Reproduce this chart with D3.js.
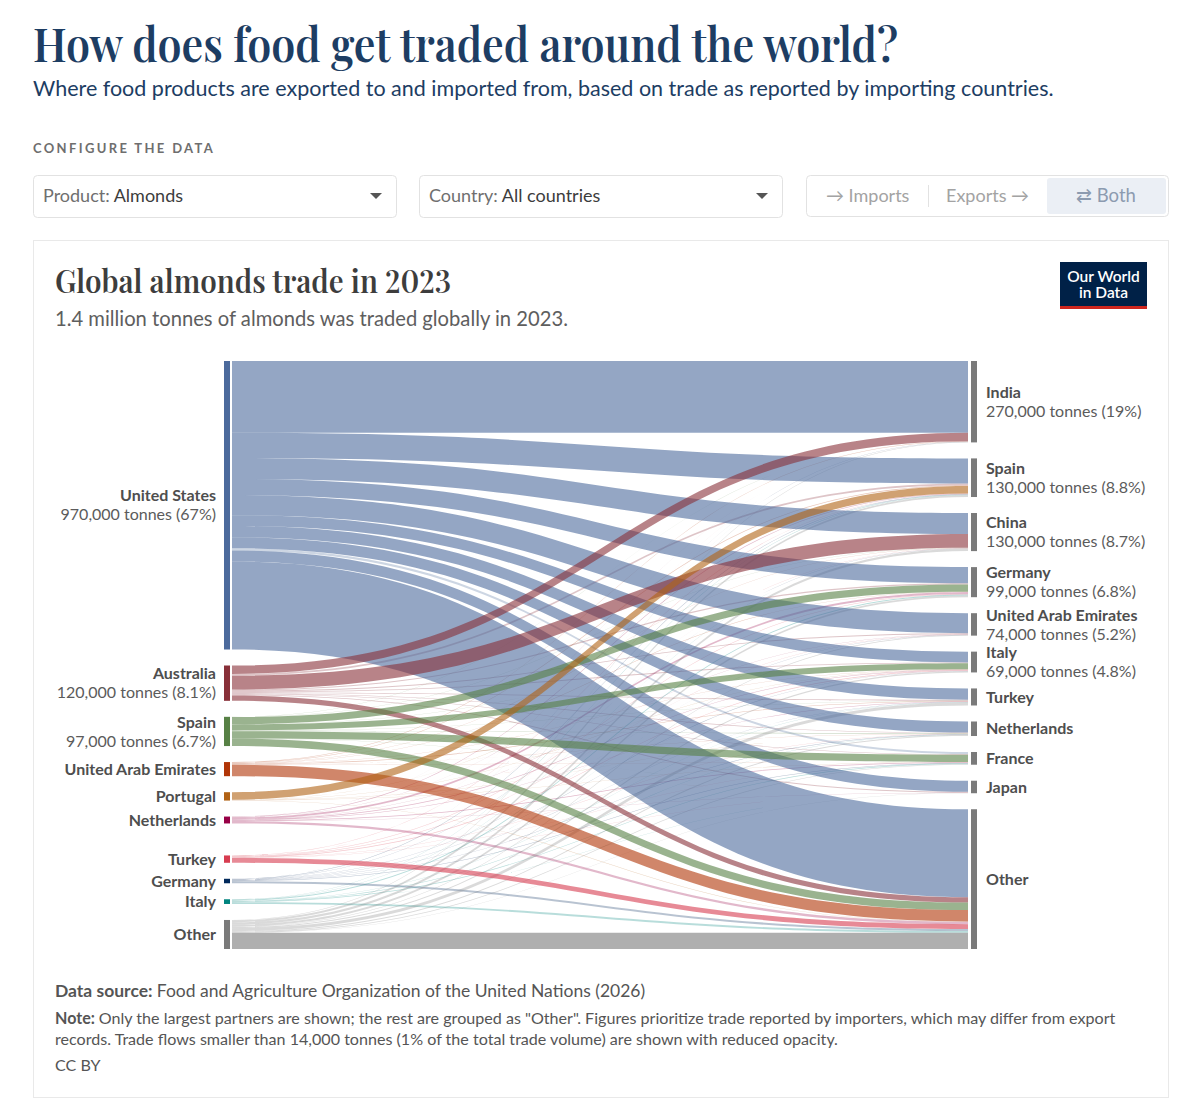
<!DOCTYPE html>
<html>
<head>
<meta charset="utf-8">
<script src="https://cdn.jsdelivr.net/npm/d3@7"></script>
<style>
  body { margin: 0; background: #fff; }
  svg text { font-family: Lato, "Noto Sans", sans-serif; }
  .serif { font-family: "Playfair Display", "Liberation Serif", "DejaVu Serif", serif !important;
           font-variant-numeric: lining-nums; }
</style>
</head>
<body>
<script>
// trade partners, thousand tonnes (exporter rows, importer columns)
var exporters = ["United States", "Australia", "Spain", "United Arab Emirates", "Portugal",
                 "Netherlands", "Turkey", "Germany", "Italy", "Other"];
var importers = ["India", "Spain", "China", "Germany", "United Arab Emirates", "Italy",
                 "Turkey", "Netherlands", "France", "Japan", "Other"];

var fromUnitedStates = [240, 84, 70, 54, 67, 36, 38, 37, 7, 37, 294];
var fromAustralia    = [28, 6, 46, 4, 3, 3, 3, 2, 2, 3, 18];
var fromSpain        = [0.5, 0, 0.5, 24, 0.5, 20, 1, 2, 24, 0.2, 25];
var fromUAE          = [1, 2, 1, 1, 0, 1, 2, 0.5, 0.5, 0.2, 38];
var fromPortugal     = [0, 25, 0, 0.5, 0, 0.5, 0, 0.5, 0.5, 0, 1];
var fromNetherlands  = [0.3, 2, 0.5, 6, 0.5, 2, 1, 0, 2.5, 0.2, 8];
var fromTurkey       = [0.2, 1, 0.5, 2, 1, 2, 0, 1, 0.5, 0.3, 16];
var fromGermany      = [0.3, 1.5, 0.5, 0, 0.5, 1, 1, 1.5, 1.5, 0.2, 7];
var fromItaly        = [0.2, 1.5, 0.3, 3, 0.5, 0, 1, 1, 2, 0.2, 6];
var fromOther        = [1.5, 6, 8, 6, 2, 4, 10, 3, 2, 0.5, 54];

var flows = [fromUnitedStates, fromAustralia, fromSpain, fromUAE, fromPortugal,
             fromNetherlands, fromTurkey, fromGermany, fromItaly, fromOther];

var exporterValueLabels = ["970,000 tonnes (67%)", "120,000 tonnes (8.1%)", "97,000 tonnes (6.7%)",
                           "", "", "", "", "", "", ""];
var importerValueLabels = ["270,000 tonnes (19%)", "130,000 tonnes (8.8%)", "130,000 tonnes (8.7%)",
                           "99,000 tonnes (6.8%)", "74,000 tonnes (5.2%)", "69,000 tonnes (4.8%)",
                           "", "", "", "", ""];

var exporterColors = ["#4c6a9c", "#883039", "#578145", "#b13507", "#b16214",
                      "#970046", "#d73c50", "#00295b", "#00847e", "#7a7a7a"];

var SMALL_FLOW = 14; // thousand tonnes, 1% of volume

var WIDTH = 1200, HEIGHT = 1101;
var TOP = 361, BOTTOM = 949, GAP = 16;
var NODE_L = 224, NODE_R = 971, NODE_W = 6;
var LINK_X0 = 232, LINK_X1 = 968;
var SPACER_AFTER = "Netherlands";

var svg = d3.select("body").append("svg")
    .attr("width", WIDTH)
    .attr("height", HEIGHT);

// ---------- page header ----------
svg.append("text")
    .attr("class", "serif")
    .attr("x", 33).attr("y", 62)
    .attr("textLength", 865).attr("lengthAdjust", "spacingAndGlyphs")
    .style("font-weight", 600).style("font-size", "46px").style("fill", "#1d3d63")
    .text("How does food get traded around the world?");

svg.append("text")
    .attr("x", 33).attr("y", 96)
    .style("font-size", "21.5px").style("fill", "#1d3d63")
    .text("Where food products are exported to and imported from, based on trade as reported by importing countries.");

svg.append("text")
    .attr("x", 33).attr("y", 153)
    .style("font-size", "13px").style("font-weight", 700).style("letter-spacing", "2.35px")
    .style("fill", "#6e6e6e")
    .text("CONFIGURE THE DATA");

function dropdown(x, w, label, value) {
    var g = svg.append("g").attr("transform", "translate(" + x + ",175)");
    g.append("rect").attr("x", 0.5).attr("y", 0.5).attr("width", w).attr("height", 42)
        .attr("rx", 4).attr("fill", "#fff").attr("stroke", "#e2e2e2");
    var t = g.append("text").attr("x", 10).attr("y", 27).style("font-size", "18px");
    t.append("tspan").style("fill", "#6f6f6f").text(label + " ");
    t.append("tspan").style("fill", "#3c3c3c").text(value);
    g.append("path").attr("d", "M" + (w - 26) + ",18 L" + (w - 14) + ",18 L" + (w - 20) + ",24 Z")
        .attr("fill", "#555");
}
dropdown(33, 363, "Product:", "Almonds");
dropdown(419, 363, "Country:", "All countries");

var tg = svg.append("g").attr("transform", "translate(806,175)");
tg.append("rect").attr("x", 0.5).attr("y", 0.5).attr("width", 362).attr("height", 41)
    .attr("rx", 4).attr("fill", "#fff").attr("stroke", "#e2e2e2");
tg.append("rect").attr("x", 241).attr("y", 3).attr("width", 119).attr("height", 36)
    .attr("rx", 3).attr("fill", "#ebeff5");
tg.append("line").attr("x1", 122.5).attr("x2", 122.5).attr("y1", 10).attr("y2", 32)
    .attr("stroke", "#e2e2e2");
tg.append("text").attr("x", 20).attr("y", 27).style("font-size", "18px").style("fill", "#a3a3a3")
    .text("\u2192 Imports");
tg.append("text").attr("x", 140).attr("y", 27).style("font-size", "18px").style("fill", "#a3a3a3")
    .text("Exports \u2192");
tg.append("text").attr("x", 270).attr("y", 27).style("font-size", "18.5px").style("fill", "#8c9bb0")
    .text("\u21c4 Both");

// ---------- chart card ----------
svg.append("rect")
    .attr("x", 33.5).attr("y", 240.5).attr("width", 1135).attr("height", 857)
    .attr("fill", "#fff").attr("stroke", "#e9e9e9");

svg.append("text")
    .attr("class", "serif")
    .attr("x", 55).attr("y", 293)
    .attr("textLength", 396).attr("lengthAdjust", "spacingAndGlyphs")
    .style("font-weight", 600).style("font-size", "31px").style("fill", "#3d3d3d")
    .text("Global almonds trade in 2023");

svg.append("text")
    .attr("x", 55).attr("y", 326)
    .style("font-size", "20.2px").style("fill", "#5e5e5e")
    .text("1.4 million tonnes of almonds was traded globally in 2023.");

// logo
var logo = svg.append("g").attr("transform", "translate(1060,262)");
logo.append("rect").attr("width", 87).attr("height", 47).attr("fill", "#002147");
logo.append("rect").attr("y", 44).attr("width", 87).attr("height", 3).attr("fill", "#ce261e");
logo.append("text").attr("x", 43.5).attr("y", 20).attr("text-anchor", "middle")
    .style("font-size", "15.5px").style("font-weight", 600).style("fill", "#fff").text("Our World");
logo.append("text").attr("x", 43.5).attr("y", 36).attr("text-anchor", "middle")
    .style("font-size", "15.5px").style("font-weight", 600).style("fill", "#fff").text("in Data");

// ---------- sankey layout ----------
var srcTotals = flows.map(function (r) { return d3.sum(r); });
var tgtTotals = importers.map(function (_, j) { return d3.sum(flows, function (r) { return r[j]; }); });
var grand = d3.sum(srcTotals);
var maxN = Math.max(exporters.length, importers.length);
var y = d3.scaleLinear()
    .domain([0, grand])
    .range([0, BOTTOM - TOP - (maxN - 1) * GAP]);

function placeNodes(names, totals, spacerAfter) {
    var used = d3.sum(totals, function (v) { return y(v); }) + (names.length - 1) * GAP;
    var spare = (BOTTOM - TOP) - used;
    var pos = TOP, out = [];
    names.forEach(function (n, i) {
        var h = y(totals[i]);
        out.push({name: n, y0: pos, y1: pos + h, value: totals[i]});
        pos += h + GAP;
        if (n === spacerAfter) pos += spare;
    });
    return out;
}

var leftNodes = placeNodes(exporters, srcTotals, SPACER_AFTER);
var rightNodes = placeNodes(importers, tgtTotals, null);

var links = [];
var srcCursor = leftNodes.map(function (n) { return n.y0; });
var tgtCursor = rightNodes.map(function (n) { return n.y0; });
flows.forEach(function (row, i) {
    row.forEach(function (v, j) {
        if (!v) return;
        links.push({s: i, t: j, value: v, sy0: srcCursor[i], sy1: srcCursor[i] + y(v)});
        srcCursor[i] += y(v);
    });
});
// target side ordered by exporter order
importers.forEach(function (_, j) {
    links.filter(function (l) { return l.t === j; })
        .sort(function (a, b) { return a.s - b.s; })
        .forEach(function (l) {
            l.ty0 = tgtCursor[j];
            l.ty1 = tgtCursor[j] + y(l.value);
            tgtCursor[j] = l.ty1;
        });
});

function ribbon(d) {
    var xm = (LINK_X0 + LINK_X1) / 2;
    return "M" + LINK_X0 + "," + d.sy0 +
        "C" + xm + "," + d.sy0 + " " + xm + "," + d.ty0 + " " + LINK_X1 + "," + d.ty0 +
        "L" + LINK_X1 + "," + d.ty1 +
        "C" + xm + "," + d.ty1 + " " + xm + "," + d.sy1 + " " + LINK_X0 + "," + d.sy1 + "Z";
}

links.sort(function (a, b) {
    return (a.value >= SMALL_FLOW) - (b.value >= SMALL_FLOW);
});

svg.append("g").attr("class", "links")
    .selectAll("path")
    .data(links)
    .enter().append("path")
    .attr("d", ribbon)
    .attr("fill", function (d) { return exporterColors[d.s]; })
    .attr("fill-opacity", function (d) { return d.value >= SMALL_FLOW ? 0.6 : 0.28; });

svg.append("g").selectAll("rect")
    .data(leftNodes)
    .enter().append("rect")
    .attr("x", NODE_L).attr("width", NODE_W)
    .attr("y", function (d) { return d.y0; })
    .attr("height", function (d) { return d.y1 - d.y0; })
    .attr("fill", function (d, i) { return exporterColors[i]; });

svg.append("g").selectAll("rect")
    .data(rightNodes)
    .enter().append("rect")
    .attr("x", NODE_R).attr("width", NODE_W)
    .attr("y", function (d) { return d.y0; })
    .attr("height", function (d) { return d.y1 - d.y0; })
    .attr("fill", "#7a7a7a");

function nodeLabels(nodes, values, x, anchor) {
    var g = svg.append("g").attr("text-anchor", anchor);
    nodes.forEach(function (d, i) {
        var cy = (d.y0 + d.y1) / 2;
        var two = values[i] !== "";
        g.append("text")
            .attr("x", x).attr("y", two ? cy - 9.5 : cy)
            .attr("dy", "0.35em")
            .style("font-size", "16px").style("font-weight", 700).style("fill", "#4e4e4e")
            .text(d.name);
        if (two) {
            g.append("text")
                .attr("x", x).attr("y", cy + 9.5)
                .attr("dy", "0.35em")
                .style("font-size", "16px").style("fill", "#5b5b5b")
                .text(values[i]);
        }
    });
}
nodeLabels(leftNodes, exporterValueLabels, 216, "end");
nodeLabels(rightNodes, importerValueLabels, 986, "start");

// ---------- footer ----------
var src = svg.append("text").attr("x", 55).attr("y", 997).style("font-size", "17.5px").style("fill", "#555");
src.append("tspan").style("font-weight", 700).text("Data source: ");
src.append("tspan").text("Food and Agriculture Organization of the United Nations (2026)");

var note1 = svg.append("text").attr("x", 55).attr("y", 1024).style("font-size", "16.1px").style("fill", "#555");
note1.append("tspan").style("font-weight", 700).text("Note: ");
note1.append("tspan").text("Only the largest partners are shown; the rest are grouped as \"Other\". Figures prioritize trade reported by importers, which may differ from export");
svg.append("text").attr("x", 55).attr("y", 1045).style("font-size", "16.1px").style("fill", "#555")
    .text("records. Trade flows smaller than 14,000 tonnes (1% of the total trade volume) are shown with reduced opacity.");
svg.append("text").attr("x", 55).attr("y", 1071).style("font-size", "16.1px").style("fill", "#555")
    .text("CC BY");
</script>
</body>
</html>
